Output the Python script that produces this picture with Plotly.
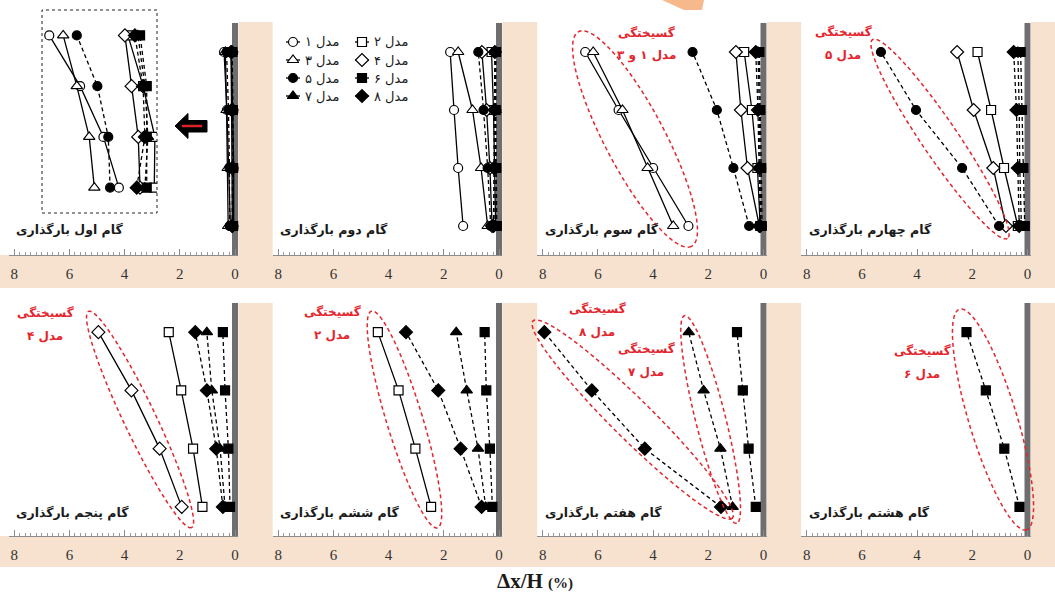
import numpy as np
import plotly.graph_objects as go

W, H = 1055, 599

# ---------------- data ----------------
floors = [1, 2, 3, 4]
model_names = ["مدل ۱", "مدل ۲", "مدل ۳", "مدل ۴", "مدل ۵", "مدل ۶", "مدل ۷", "مدل ۸"]
model_symbols = ["circle", "square", "triangle-up", "diamond"] * 2
model_filled = [False] * 4 + [True] * 4
model_dash = ["solid"] * 4 + ["dash"] * 4
tick_vals = [8, 6, 4, 2, 0]

step_titles = ["گام اول بارگذاری", "گام دوم بارگذاری", "گام سوم بارگذاری", "گام چهارم بارگذاری",
               "گام پنجم بارگذاری", "گام ششم بارگذاری", "گام هفتم بارگذاری", "گام هشتم بارگذاری"]

# drift (%) per model at floors 1..4
step1 = {1: [0.166, 0.217, 0.294, 0.396], 2: [0.049, 0.047, 0.086, 0.136], 3: [0.247, 0.264, 0.305, 0.350],
         4: [0.096, 0.102, 0.124, 0.146], 5: [0.195, 0.201, 0.237, 0.305], 6: [0.074, 0.074, 0.074, 0.096],
         7: [0.080, 0.070, 0.080, 0.103], 8: [0.107, 0.080, 0.086, 0.113]}
step2 = {1: [1.30, 1.48, 1.63, 1.77], 2: [0.12, 0.15, 0.20, 0.27], 3: [0.41, 0.65, 0.96, 1.48],
         4: [0.25, 0.33, 0.45, 0.62], 5: [0.30, 0.41, 0.56, 0.75], 6: [0.08, 0.10, 0.12, 0.11],
         7: [0.15, 0.14, 0.12, 0.14], 8: [0.20, 0.18, 0.16, 0.15]}
step3 = {1: [2.72, 4.00, 5.25, 6.46], 2: [0.12, 0.22, 0.42, 0.70], 3: [3.27, 4.20, 5.11, 6.17],
         4: [0.15, 0.58, 0.82, 1.00], 5: [0.52, 1.09, 1.69, 2.57], 6: [0.05, 0.08, 0.12, 0.15],
         7: [0.10, 0.12, 0.15, 0.20], 8: [0.12, 0.15, 0.20, 0.28]}
step4 = {2: [0.35, 0.85, 1.32, 1.81], 4: [0.78, 1.24, 1.95, 2.55], 5: [1.03, 2.37, 4.04, 5.31],
         6: [0.10, 0.15, 0.20, 0.25], 7: [0.22, 0.28, 0.30, 0.35], 8: [0.30, 0.35, 0.40, 0.50]}
step5 = {2: [1.18, 1.52, 1.95, 2.40], 4: [1.93, 2.73, 3.75, 4.95], 6: [0.18, 0.24, 0.36, 0.44],
         7: [0.36, 0.54, 0.84, 1.02], 8: [0.44, 0.68, 1.02, 1.44]}
step6 = {2: [2.46, 3.03, 3.64, 4.39], 6: [0.24, 0.33, 0.46, 0.52], 7: [0.48, 0.76, 1.17, 1.55],
         8: [0.63, 1.39, 2.20, 3.37]}
step7 = {6: [0.28, 0.54, 0.75, 0.96], 7: [1.12, 1.56, 2.17, 2.71], 8: [1.54, 4.30, 6.22, 7.94]}
step8 = {6: [0.29, 0.84, 1.51, 2.21]}
steps = [step1, step2, step3, step4, step5, step6, step7, step8]

# failure annotations: (panel index, failed models, label, label centre px)
failures = [
    (2, [1, 3], "مدل ۱ و ۳", (646, 33)),
    (3, [5], "مدل ۵", (843, 32)),
    (4, [4], "مدل ۴", (45, 313)),
    (5, [2], "مدل ۲", (332, 312)),
    (6, [8], "مدل ۸", (597, 309)),
    (6, [7], "مدل ۷", (646, 349)),
    (7, [6], "مدل ۶", (922, 351)),
]
fail_word = "گسیختگی"
ellipse_pad = [(23, 30), (15, 18), (23, 16), (22, 18), (16, 20), (17, 15), (24, 24)]

# ---------------- layout geometry ----------------
ROW_TOP = [23, 303]
ROW_BOT = [255, 536]
COL_X0 = [235, 499, 763.5, 1027.5]
S = 27.6
XR = [8.2, -0.12]
TAN = "#f7e2cf"
RED = "#e3262d"
BAR = "#6e6e6e"


def pp(px, py):
    return px / W, 1 - py / H


def to_px(k, v, f):
    r, c = divmod(k, 4)
    px = COL_X0[c] - v * S
    py = ROW_BOT[r] - (f - 0.5) * (ROW_BOT[r] - ROW_TOP[r]) / 4
    return px, py


layout = dict(width=W, height=H, margin=dict(l=0, r=0, t=0, b=0),
              paper_bgcolor="white", plot_bgcolor="rgba(0,0,0,0)", showlegend=False)
shapes = []
annotations = []
fig = go.Figure()

# background tan rows
shapes.append(dict(type="rect", xref="paper", yref="paper", x0=0, x1=1,
                   y0=pp(0, 288)[1], y1=pp(0, 22)[1], fillcolor=TAN, line_width=0, layer="below"))
shapes.append(dict(type="rect", xref="paper", yref="paper", x0=0, x1=1,
                   y0=pp(0, 567)[1], y1=pp(0, 303)[1], fillcolor=TAN, line_width=0, layer="below"))


def add_series(data, xa, ya, msize=9):
    for m in sorted(data):
        i = m - 1
        fill = "black" if model_filled[i] else "white"
        sz = msize + (1 if model_symbols[i] in ("triangle-up", "diamond") else 0)
        fig.add_trace(go.Scatter(
            x=data[m], y=floors, mode="lines+markers", xaxis=xa, yaxis=ya,
            line=dict(color="black", width=1.3, dash="4px,3px" if model_dash[i] == "dash" else "solid"),
            marker=dict(symbol=model_symbols[i], size=sz, color=fill, line=dict(color="black", width=1.2)),
            name=model_names[i], hoverinfo="skip"))


for k in range(8):
    r, c = divmod(k, 4)
    x0 = COL_X0[c]
    left = x0 - XR[0] * S
    right = x0 - XR[1] * S
    ax = "" if k == 0 else str(k + 1)
    layout["xaxis" + ax] = dict(
        domain=[left / W, right / W], range=XR, anchor="y" + ax, side="bottom",
        tickmode="linear", tick0=0, dtick=2, ticks="inside", ticklen=6, tickcolor="#8c8c8c",
        showline=True, linecolor="#8c8c8c", linewidth=1, showgrid=False, zeroline=False,
        tickfont=dict(family="Liberation Serif", size=15, color="#333333"), ticklabelstandoff=5,
        minor=dict(tick0=0, dtick=0.2, ticks="inside", ticklen=3, tickcolor="#9a9a9a", showgrid=False),
        fixedrange=True)
    layout["yaxis" + ax] = dict(domain=[1 - ROW_BOT[r] / H, 1 - ROW_TOP[r] / H], range=[0.5, 4.5],
                                anchor="x" + ax, visible=False, fixedrange=True)
    # white plotting area
    wl = 0 if c == 0 else left
    shapes.append(dict(type="rect", xref="paper", yref="paper", x0=wl / W, x1=right / W,
                       y0=1 - ROW_BOT[r] / H, y1=1 - (ROW_TOP[r] - 1) / H,
                       fillcolor="white", line_width=0, layer="below"))
    # rigid wall bar at x = 0
    shapes.append(dict(type="line", xref="x" + ax, yref="y" + ax, x0=0, x1=0, y0=0.5, y1=4.5,
                       line=dict(color=BAR, width=6), layer="below"))
    add_series(steps[k], "x" + ax, "y" + ax)
    # step title
    tx, ty = pp(x0 - 221, ROW_BOT[r] - 25 if r == 0 else ROW_BOT[r] - 23)
    annotations.append(dict(text="<b>" + step_titles[k] + "</b>", x=tx, y=ty, xref="paper", yref="paper",
                            xanchor="left", yanchor="middle", showarrow=False,
                            font=dict(family="DejaVu Sans", size=12.5, color="#1a1a1a")))

# ---------------- inset (magnified step 1) ----------------
layout["xaxis9"] = dict(domain=[42 / W, 157 / W], range=[0.42, 0.04], anchor="y9", visible=False, fixedrange=True)
layout["yaxis9"] = dict(domain=[1 - 213 / H, 1 - 10 / H], range=[0.5, 4.5], anchor="x9", visible=False, fixedrange=True)
add_series(step1, "x9", "y9")
shapes.append(dict(type="rect", xref="paper", yref="paper", x0=42 / W, x1=157 / W, y0=1 - 213 / H, y1=1 - 10 / H,
                   line=dict(color="#222222", width=1, dash="dot"), fillcolor="rgba(0,0,0,0)", layer="above"))

# arrow pointing from the plot to the inset
arrow = [(175, 126), (188, 113.5), (188, 120.5), (207, 120.5), (207, 132), (188, 132), (188, 138.5)]
shapes.append(dict(type="path", xref="paper", yref="paper",
                   path="M " + " L ".join(f"{pp(a, b)[0]:.5f},{pp(a, b)[1]:.5f}" for a, b in arrow) + " Z",
                   fillcolor="black", line=dict(color="black", width=1)))
shapes.append(dict(type="line", xref="paper", yref="paper", x0=pp(182, 0)[0], x1=pp(202, 0)[0],
                   y0=pp(0, 126)[1], y1=pp(0, 126)[1], line=dict(color="#e0202a", width=2.5)))

# orange fragment at the top edge (cropped page decoration)
band = [(662, 0), (704, 0), (702, 10), (684, 10)]
shapes.append(dict(type="path", xref="paper", yref="paper",
                   path="M " + " L ".join(f"{pp(a, b)[0]:.5f},{pp(a, b)[1]:.5f}" for a, b in band) + " Z",
                   fillcolor="#f7b98c", line_width=0, layer="below"))

# ---------------- custom legend ----------------
layout["xaxis10"] = dict(domain=[280 / W, 420 / W], range=[0, 140], anchor="y10", visible=False, fixedrange=True)
layout["yaxis10"] = dict(domain=[1 - 105 / H, 1 - 33 / H], range=[4.5, 0.5], anchor="x10", visible=False, fixedrange=True)
leg_cx = [13, 82]
for i in range(8):
    col, row = i % 2, i // 2 + 1
    cx = leg_cx[col]
    fill = "black" if model_filled[i] else "white"
    sz = 9 + (1 if model_symbols[i] in ("triangle-up", "diamond") else 0)
    fig.add_trace(go.Scatter(x=[cx - 7, cx + 7], y=[row, row], mode="lines", xaxis="x10", yaxis="y10",
                             line=dict(color="black", width=1.3), hoverinfo="skip"))
    fig.add_trace(go.Scatter(x=[cx], y=[row], mode="markers", xaxis="x10", yaxis="y10",
                             marker=dict(symbol=model_symbols[i], size=sz, color=fill,
                                         line=dict(color="black", width=1.2)), hoverinfo="skip"))
    lx, ly = pp(280 + cx + 10, 33 + (row - 0.5) * 18)
    annotations.append(dict(text=model_names[i], x=lx, y=ly, xref="paper", yref="paper", xanchor="left",
                            yanchor="middle", showarrow=False,
                            font=dict(family="DejaVu Sans", size=13, color="#1a1a1a")))

# ---------------- failure ellipses and labels ----------------
for (k, models, label, (lxp, lyp)), (pad_a, b) in zip(failures, ellipse_pad):
    data = steps[k]
    tops = np.array([to_px(k, data[m][3], 4) for m in models])
    bots = np.array([to_px(k, data[m][0], 1) for m in models])
    p1, p2 = tops.mean(axis=0), bots.mean(axis=0)
    cen = (p1 + p2) / 2
    d = p2 - p1
    L = np.hypot(*d)
    u = d / L
    n = np.array([-u[1], u[0]])
    a = L / 2 + pad_a
    t = np.linspace(0, 2 * np.pi, 90)
    pts = cen + np.outer(a * np.cos(t), u) + np.outer(b * np.sin(t), n)
    path = "M " + " L ".join(f"{x / W:.5f},{1 - y / H:.5f}" for x, y in pts) + " Z"
    shapes.append(dict(type="path", xref="paper", yref="paper", path=path,
                       line=dict(color=RED, width=1.5, dash="4px,3px"), layer="above"))
    for txt, dy in ((fail_word, 0), (label, 23)):
        ax_, ay_ = pp(lxp, lyp + dy)
        annotations.append(dict(text="<b>" + txt + "</b>", x=ax_, y=ay_, xref="paper", yref="paper",
                                xanchor="center", yanchor="middle", showarrow=False,
                                font=dict(family="DejaVu Sans", size=12, color=RED)))

# x-axis title
tx, ty = pp(535, 581)
annotations.append(dict(text="<b>Δx/H</b> <b><span style='font-size:15px'>(%)</span></b>", x=tx, y=ty,
                        xref="paper", yref="paper", xanchor="center", yanchor="middle", showarrow=False,
                        font=dict(family="Liberation Serif", size=21, color="#1a1a1a")))

layout["shapes"] = shapes
layout["annotations"] = annotations
fig.update_layout(**layout)
fig.write_html("out.html", include_plotlyjs=True, config=dict(staticPlot=True),
               post_script="document.body.style.margin='0px';")
